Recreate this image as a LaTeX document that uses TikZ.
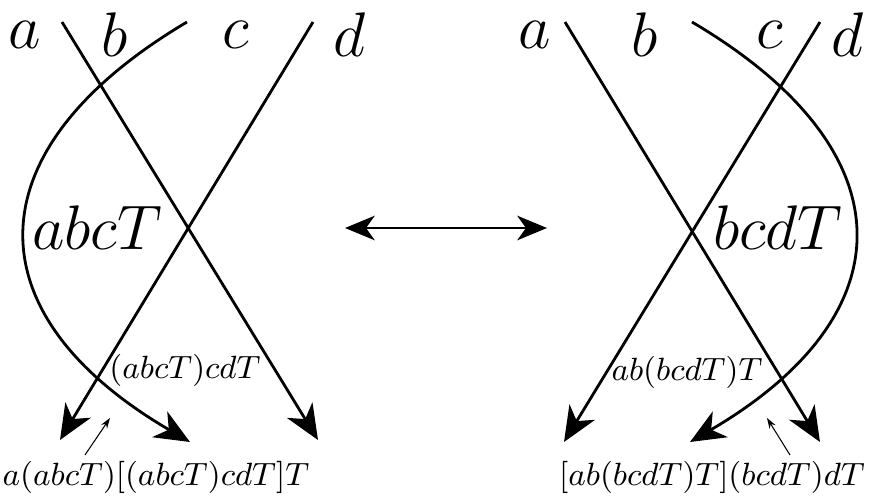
\RequirePackage{fix-cm}
\documentclass[tikz,border=0pt]{standalone}
\usetikzlibrary{arrows.meta}
\begin{document}
\begin{tikzpicture}[x=0.2857pt,y=-0.2857pt,
  strand/.style={line width=0.8pt},
  tip/.style={-{Stealth[length=10pt,width=8.5pt,inset=3pt]}},
  thinarrow/.style={line width=0.3pt,-{Stealth[length=3pt,width=2pt]}},
  big/.style={font=\fontsize{18}{20}\selectfont,inner sep=0pt},
  small/.style={font=\fontsize{9.2}{11}\selectfont,inner sep=0pt}]
\useasboundingbox (0,0) rectangle (870,502);
% left diagram
\node[big] (la) at (25,35) {$a$};
\node[big] (lb) at (115,35) {$b$};
\node[big] (lc) at (236,35) {$c$};
\node[big] (ld) at (350,35) {$d$};
\coordinate (La0) at (62,22);  \coordinate (La1) at (318,440);
\coordinate (Lb0) at (187,22); \coordinate (Lb1) at (190,442);
\coordinate (Ld0) at (313,22); \coordinate (Ld1) at (60,440);
\draw[strand,tip] (La0) -- (La1);
\draw[strand,tip] (Ld0) -- (Ld1);
\draw[strand,tip] (Lb0) .. controls (-29,150) and (-29,314) .. (Lb1);
\node[big] (labc) at (97,228) {$abcT$};
\node[small] (lmid) at (185,370) {$(abcT)cdT$};
\node[small] (lbot) at (156,477) {$a(abcT)[(abcT)cdT]T$};
\coordinate (Lt0) at (85,455); \coordinate (Lt1) at (110,418);
\draw[thinarrow] (Lt0) -- (Lt1);
% middle
\coordinate (M0) at (345,228); \coordinate (M1) at (547,228);
\draw[strand,{Stealth[length=8.5pt,width=7pt,inset=2.5pt]}-{Stealth[length=8.5pt,width=7pt,inset=2.5pt]}] (M0) -- (M1);
% right diagram
\node[big] (ra) at (535,35) {$a$};
\node[big] (rb) at (645,35) {$b$};
\node[big] (rc) at (770,35) {$c$};
\node[big] (rd) at (848,35) {$d$};
\coordinate (Ra0) at (565,22);  \coordinate (Ra1) at (820,442);
\coordinate (Rb0) at (692,22);  \coordinate (Rb1) at (690,442);
\coordinate (Rd0) at (820,22);  \coordinate (Rd1) at (564,442);
\draw[strand,tip] (Ra0) -- (Ra1);
\draw[strand,tip] (Rd0) -- (Rd1);
\draw[strand,tip] (Rb0) .. controls (909,150) and (909,314) .. (Rb1);
\node[big] (rbcd) at (778,228) {$bcdT$};
\node[small] (rmid) at (687,372) {$ab(bcdT)T$};
\node[small] (rbot) at (712,477) {$[ab(bcdT)T](bcdT)dT$};
\coordinate (Rt0) at (790,455); \coordinate (Rt1) at (767,418);
\draw[thinarrow] (Rt0) -- (Rt1);
\end{tikzpicture}
\end{document}
